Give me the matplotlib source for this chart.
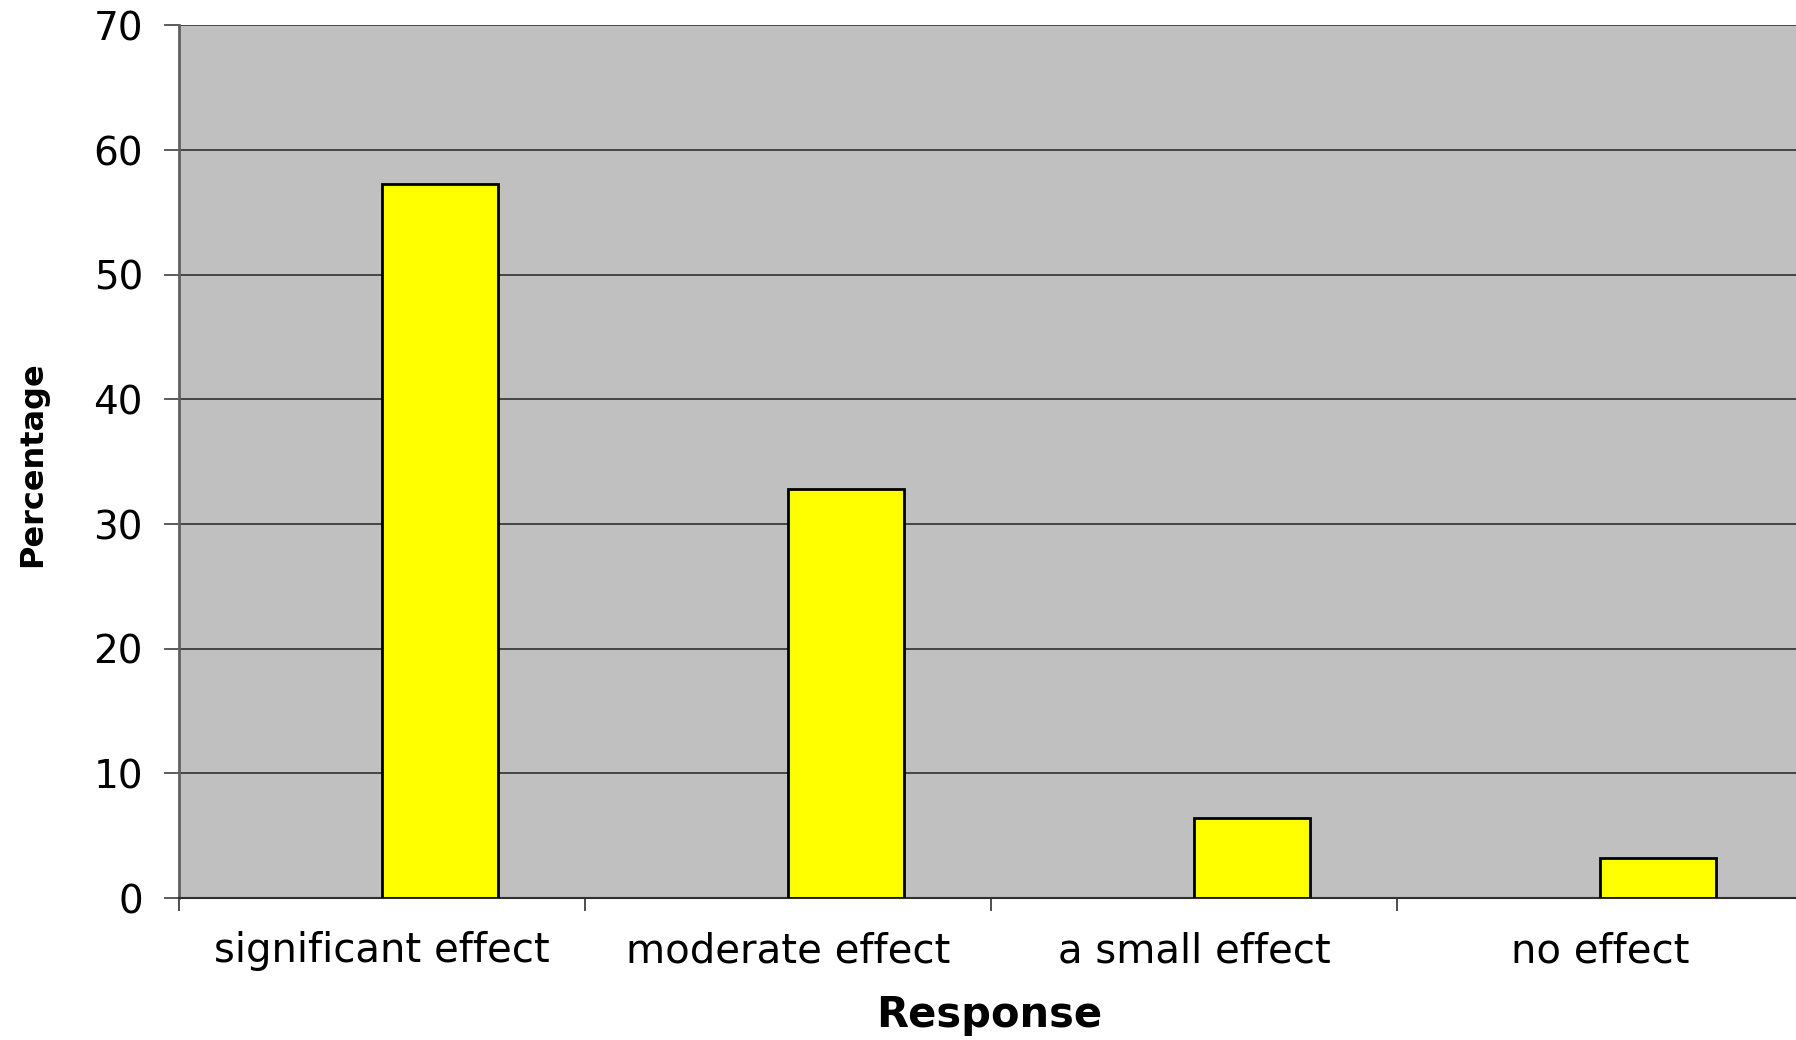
import numpy as np
import matplotlib.pyplot as plt

categories = ["significant effect", "moderate effect", "a small effect", "no effect"]
values = [57.3, 32.8, 6.4, 3.2]
yticks = [0, 10, 20, 30, 40, 50, 60, 70]

plt.rcParams['font.family'] = ['DejaVu Sans']

fig = plt.figure(figsize=(17.96, 10.4), dpi=100)
ax = fig.add_axes([0.0997, 0.1365, 0.9003, 0.839])
ax.set_facecolor('#C0C0C0')

x = np.arange(len(categories))
# bars sit right of the category centre, as in the original
ax.bar(x, values, width=0.285, align='edge', color='#FFFF00',
       edgecolor='black', linewidth=2, zorder=3)

ax.set_ylim(0, 70)
ax.set_xlim(-0.5, 3.483)
ax.set_yticks(yticks)
ax.yaxis.grid(True, color='#303030', linewidth=1.2, zorder=1)
ax.set_axisbelow(True)

ax.set_xticks(x)
ax.set_xticklabels(categories, fontsize=29)
ax.set_xticks(np.arange(len(categories)) - 0.5, minor=True)
ax.tick_params(axis='x', which='major', length=0, pad=24)
ax.tick_params(axis='x', which='minor', length=9, width=1.2, color='#303030', direction='out')
ax.tick_params(axis='y', labelsize=28, length=11, width=1.2, color='#404040', pad=15)

for s in ['top', 'right']:
    ax.spines[s].set_visible(False)
ax.spines['left'].set_color('#606060')
ax.spines['left'].set_linewidth(2)
ax.spines['bottom'].set_color('#303030')
ax.spines['bottom'].set_linewidth(1.5)

fig.text(0.5505, 0.024, "Response", fontsize=30, fontweight='bold', ha='center', va='center')
fig.text(0.018, 0.554, "Percentage", fontsize=23, fontweight='bold', rotation=90,
         ha='center', va='center')

fig.savefig("out.png", dpi=100)
